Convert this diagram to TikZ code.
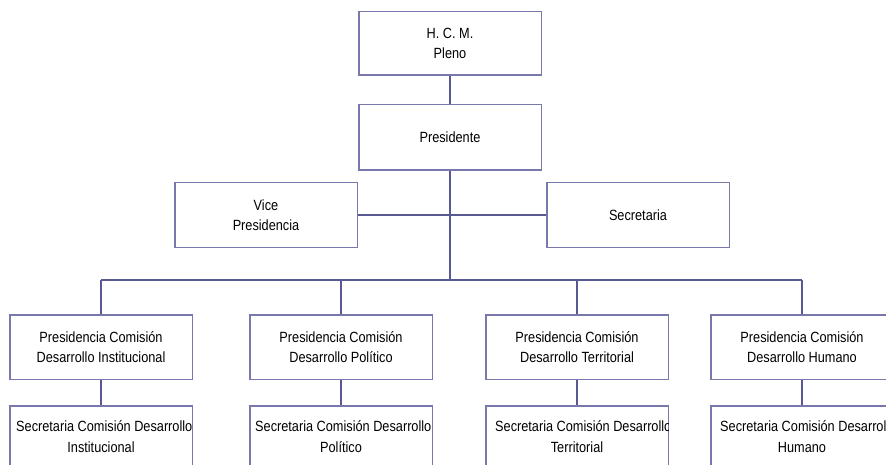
\documentclass[tikz,border=0pt]{standalone}
\usepackage{fontspec}
\setmainfont{Liberation Sans}[FakeStretch=0.86]
\definecolor{conn}{RGB}{88,88,146}
\definecolor{boxline}{RGB}{120,120,172}
\begin{document}
\begin{tikzpicture}[x=1pt,y=-1pt,
  orgbox/.style={draw=boxline,line width=1pt,fill=white,minimum width=182pt,minimum height=64pt,inner sep=0pt,align=center,font=\fontsize{14.8}{20.5}\selectfont},
  txt/.style={inner sep=0pt,font=\fontsize{14.8}{20.5}\selectfont},
  link/.style={draw=conn,line width=1.8pt}]
\useasboundingbox (0,0) rectangle (886,465);
\clip (0,0) rectangle (886,465);
\fill[white] (0,0) rectangle (886,465);
\node[orgbox,minimum height=63pt] (hcm) at (450,43.5) {H. C. M.\\Pleno};
\node[orgbox,minimum height=65pt] (pres) at (450,137.5) {Presidente};
\coordinate (bus) at (450,280);
\coordinate (busL) at (101,280);
\coordinate (busR) at (802,280);
\node[orgbox] (vice) at (266,215) {Vice\\Presidencia};
\node[orgbox] (sec) at (638,215) {Secretaria};
\node[orgbox] (p1) at (101,347) {Presidencia Comisión\\Desarrollo Institucional};
\node[orgbox] (p2) at (341,347) {Presidencia Comisión\\Desarrollo Político};
\node[orgbox] (p3) at (577,347) {Presidencia Comisión\\Desarrollo Territorial};
\node[orgbox] (p4) at (802,347) {Presidencia Comisión\\Desarrollo Humano};
\node[orgbox] (s1) at (101,438) {};
\node[orgbox] (s2) at (341,438) {};
\node[orgbox] (s3) at (577,438) {};
\node[orgbox] (s4) at (802,438) {};
\draw[link] (hcm.south) -- (pres.north);
\draw[link] (pres.south) -- (bus);
\draw[link] (vice.east) -- (sec.west);
\draw[link] (busL) -- (busR);
\draw[link] (busL) -- (p1.north);
\draw[link] (p2.north |- bus) -- (p2.north);
\draw[link] (p3.north |- bus) -- (p3.north);
\draw[link] (busR) -- (p4.north);
\draw[link] (p1.south) -- (s1.north);
\draw[link] (p2.south) -- (s2.north);
\draw[link] (p3.south) -- (s3.north);
\draw[link] (p4.south) -- (s4.north);
% redraw box borders on top of line ends
\foreach \b in {hcm,pres,vice,sec,p1,p2,p3,p4,s1,s2,s3,s4}
  \draw[boxline,line width=1pt] (\b.south west) rectangle (\b.north east);
% bottom texts, clipped by their boxes
\begin{scope}
\clip (s1.south west) rectangle (s1.north east);
\node[txt,anchor=west] (s1a) at (16,426) {Secretaria Comisión Desarrollo};
\node[txt] (s1b) at (101,447) {Institucional};
\end{scope}
\begin{scope}
\clip (s2.south west) rectangle (s2.north east);
\node[txt,anchor=west] (s2a) at (255,426) {Secretaria Comisión Desarrollo};
\node[txt] (s2b) at (341,447) {Político};
\end{scope}
\begin{scope}
\clip (s3.south west) rectangle (s3.north east);
\node[txt,anchor=west] (s3a) at (495,426) {Secretaria Comisión Desarrollo};
\node[txt] (s3b) at (577,447) {Territorial};
\end{scope}
\begin{scope}
\clip (s4.south west) rectangle (s4.north east);
\node[txt,anchor=west] (s4a) at (720,426) {Secretaria Comisión Desarrollo};
\node[txt] (s4b) at (802,447) {Humano};
\end{scope}
\end{tikzpicture}
\end{document}
